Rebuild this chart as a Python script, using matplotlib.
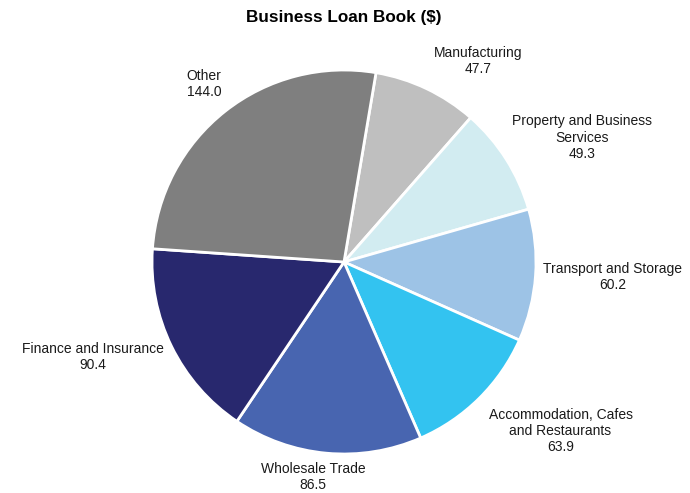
import matplotlib
matplotlib.use("Agg")
import matplotlib.pyplot as plt
import numpy as np

plt.rcParams['font.family'] = ['Liberation Sans', 'DejaVu Sans']

# Loan book by industry, in draw order (clockwise from the top)
categories = [
    "Manufacturing",
    "Property and Business\nServices",
    "Transport and Storage",
    "Accommodation, Cafes\nand Restaurants",
    "Wholesale Trade",
    "Finance and Insurance",
    "Other",
]
values = [47.7, 49.3, 60.2, 63.9, 86.5, 90.4, 144.0]
colors = ["#BFBFBF", "#D2ECF1", "#9DC3E6", "#33C3F0", "#4865B0", "#28286E", "#7F7F7F"]

# Radial distance and angular nudge (degrees) for each outside label
label_dist = [1.26, 1.40, 1.40, 1.43, 1.13, 1.40, 1.18]
label_nudge = [-8.3, -4.8, 0.8, 7.3, -3.0, -5.4, -0.1]

W, H = 690, 493
fig = plt.figure(figsize=(W / 100, H / 100), dpi=100)
ax = fig.add_axes([0, 0, 1, 1])

cx, cy, R = 344, 262, 192

wedges, _ = ax.pie(
    values,
    colors=colors,
    startangle=80.4,
    counterclock=False,
    radius=1.0,
    wedgeprops=dict(edgecolor="white", linewidth=2),
)

ax.set_xlim(-cx / R, (W - cx) / R)
ax.set_ylim(-(H - cy) / R, cy / R)
ax.set_aspect("equal")
ax.axis("off")

for w, cat, val, d, nudge in zip(wedges, categories, values, label_dist, label_nudge):
    mid = np.deg2rad((w.theta1 + w.theta2) / 2 + nudge)
    x, y = d * np.cos(mid), d * np.sin(mid)
    ax.text(x, y, f"{cat}\n{val:.1f}", ha="center", va="center",
            fontsize=10, linespacing=1.2, color="#1a1a1a", multialignment="center")

ax.text(0, (cy - 18) / R, "Business Loan Book ($)", ha="center", va="center",
        fontsize=12.3, fontweight="bold", color="black")

fig.savefig("out.png", dpi=100)
